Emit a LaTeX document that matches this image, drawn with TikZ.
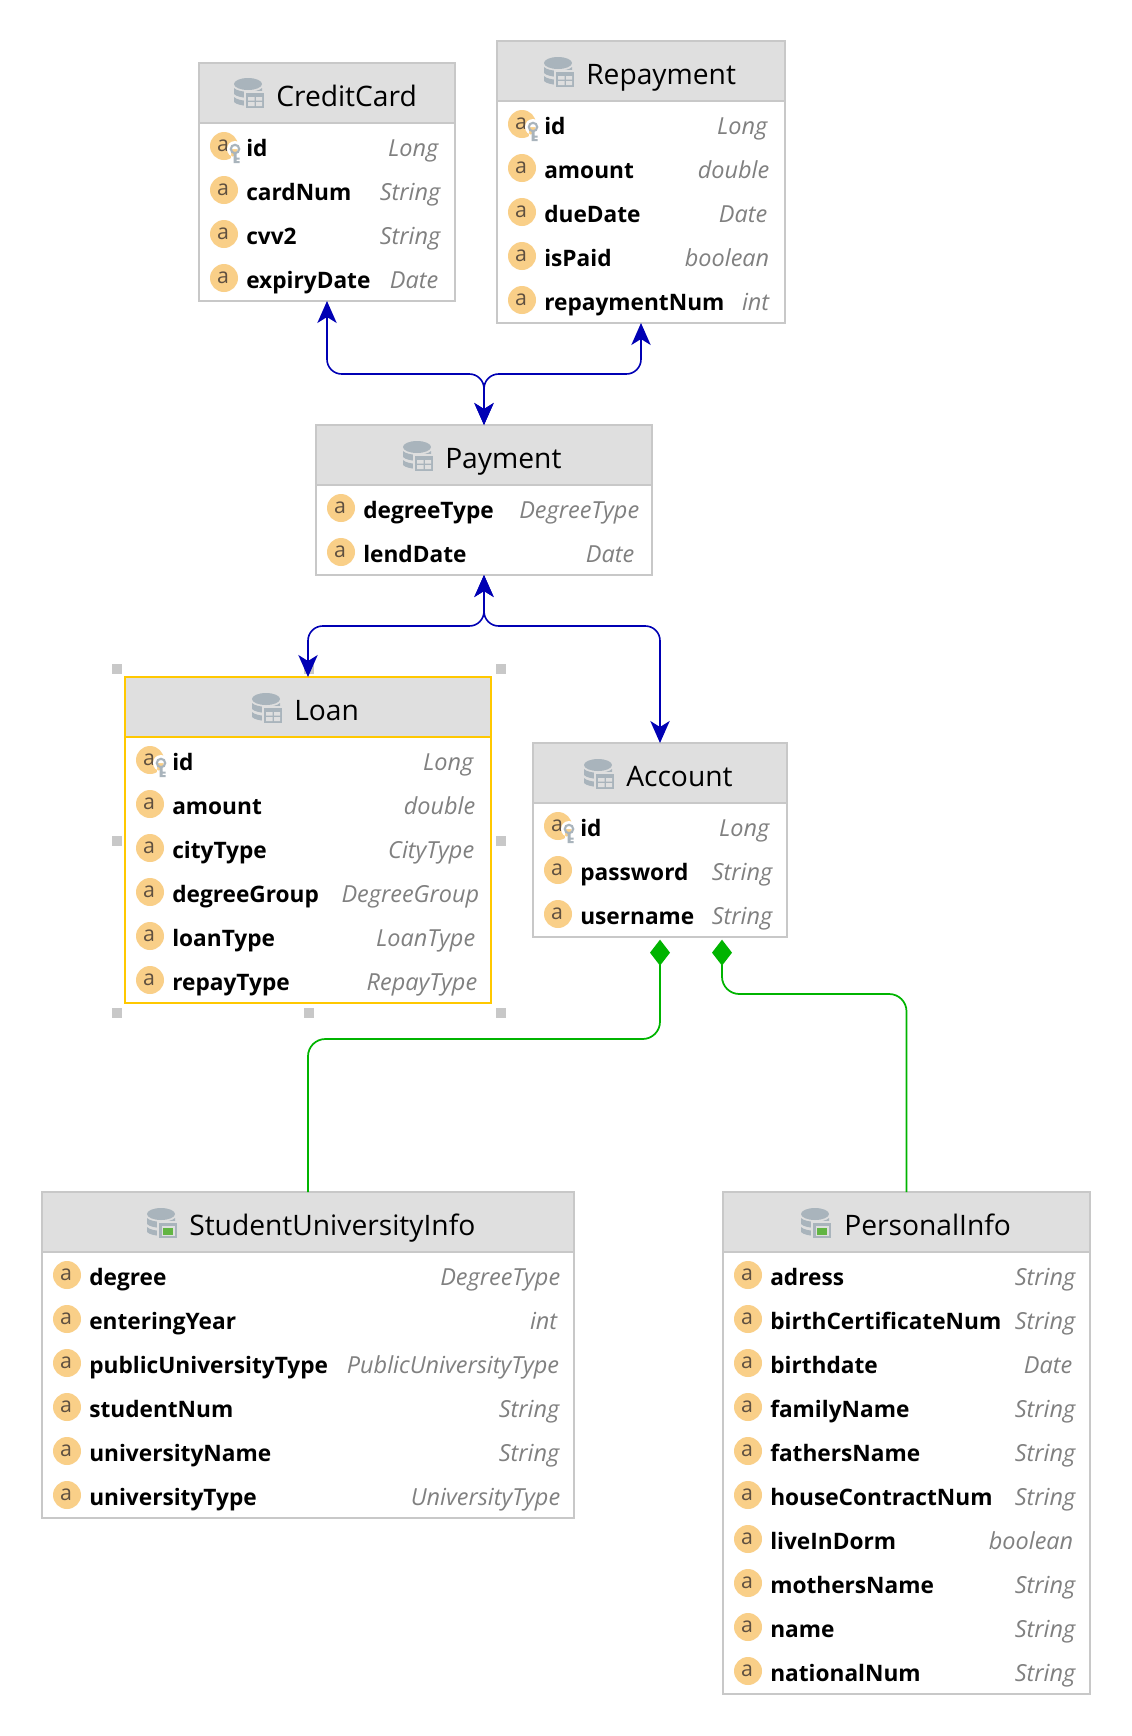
\documentclass[tikz,border=0pt]{standalone}
\usepackage{fontspec}
\setmainfont{Open Sans}
\usetikzlibrary{arrows.meta,shapes.geometric}
\definecolor{boxgray}{HTML}{C8C8C8}
\definecolor{headgray}{HTML}{DFDFDF}
\definecolor{icongray}{HTML}{A9B4BC}
\definecolor{attrorange}{HTML}{F9CF88}
\definecolor{attrbrown}{HTML}{5F5040}
\definecolor{typegray}{HTML}{808080}
\definecolor{pickyellow}{HTML}{FFC800}
\definecolor{fkblue}{HTML}{0000B4}
\definecolor{partgreen}{HTML}{00B400}
\definecolor{viewgreen}{HTML}{62B543}
\tikzset{
  tablebody/.style={draw=#1,fill=white,line width=.85pt,inner sep=0pt,outer sep=0pt,anchor=north west},
  tablehead/.style={fill=headgray,inner sep=0pt,outer sep=0pt,anchor=north west},
  tabletitle/.style={inner sep=0pt,anchor=base west,font=\fontsize{21.15}{21.15}\selectfont},
  attricon/.style={circle,fill=attrorange,text=attrbrown,minimum size=21pt,inner sep=0pt,font=\fontsize{16}{16}\selectfont},
  attrname/.style={inner sep=0pt,anchor=base west,font=\fontsize{17}{17}\selectfont\bfseries},
  attrtype/.style={inner sep=0pt,anchor=base east,text=typegray,font=\fontsize{17.6}{17.6}\selectfont\itshape},
  handle/.style={fill=boxgray,minimum size=7.5pt,inner sep=0pt},
  fkline/.style={draw=fkblue,line width=1.2pt,rounded corners=11pt,
    {Stealth[length=16.5pt,width=14.5pt,inset=4.5pt]}-{Stealth[length=16.5pt,width=14.5pt,inset=4.5pt]}},
  partline/.style={draw=partgreen,line width=1.3pt,rounded corners=13pt,shorten <=2pt,
    {Diamond[length=19.5pt,width=15pt]}-},
}
\newcommand{\dbtable}[7][boxgray]{%
  \node[tablebody=#1,minimum width={(#5-#3)*.75pt},minimum height={(#6-#4)*.75pt}] (#2) at (#3,#4) {};%
  \node[tablehead,minimum width={(#5-#3-2)*.75pt},minimum height={59*.75pt}] (#2h) at (#3+1,#4+1) {};%
  \draw[draw=#1,line width=1.5pt] (#3,#4+60) -- (#5,#4+60);%
  \node[tabletitle] (#2t) at (#7,#4+43) {\csname title#2\endcsname};%
}
\newcommand{\dbstack}[2]{%
  \begin{scope}[shift={(#1,#2)}]%
    \fill[icongray] (14,6) ellipse (14 and 6);%
    \fill[icongray] (0,10) .. controls (5,15) and (23,15) .. (28,10) -- (28,16) .. controls (23,21) and (5,21) .. (0,16) -- cycle;%
    \fill[icongray] (0,19) .. controls (5,24) and (23,24) .. (28,19) -- (28,24) .. controls (23,29) and (5,29) .. (0,24) -- cycle;%
    \fill[headgray] (10,12.5) rectangle (31,31);%
    \fill[icongray] (12,15) rectangle (30,30);%
  \end{scope}%
}
\newcommand{\dbicon}[2]{%
  \dbstack{#1}{#2}%
  \begin{scope}[shift={(#1,#2)}]%
    \fill[headgray] (14,19) rectangle (20.5,22.5) (22,19) rectangle (28,22.5) (14,24) rectangle (20.5,28) (22,24) rectangle (28,28);%
  \end{scope}%
}
\newcommand{\dbview}[2]{%
  \dbstack{#1}{#2}%
  \begin{scope}[shift={(#1,#2)}]%
    \fill[headgray] (14.5,17.5) rectangle (27.5,27.5);%
    \fill[viewgreen] (16,19.5) rectangle (26,26.5);%
  \end{scope}%
}
\newcommand{\attr}[6]{%
  \node[attricon] (#1a) at (#2,#3) {\kern-1.5pt a};%
  \node[attrname] (#1n) at (#2+22,#3+10) {#4};%
  \node[attrtype] (#1t) at (#5+1.5,#3+10) {#6};%
}
\newcommand{\keymark}[2]{%
  \begin{scope}[shift={(#1,#2)}]%
    \fill[white] (11,3) circle (8) (7,3) rectangle (15,18);%
    \draw[icongray,line width=1.6pt] (11,3) circle (4.2);%
    \fill[icongray] (9.5,7) rectangle (12.5,17) (12.5,11.5) rectangle (15.5,13.5) (12.5,15) rectangle (15.5,17);%
  \end{scope}%
}
\newcommand{\titlecredit}{CreditCard}
\newcommand{\titlerepay}{Repayment}
\newcommand{\titlepayment}{Payment}
\newcommand{\titleloan}{Loan}
\newcommand{\titleaccount}{Account}
\newcommand{\titlestudent}{StudentUniversityInfo}
\newcommand{\titlepersonal}{PersonalInfo}
\begin{document}
\begin{tikzpicture}[x=.75pt,y=-.75pt]
\useasboundingbox (0,0) rectangle (1132,1736);
\fill[white] (0,0) rectangle (1132,1736);
%% CreditCard
\dbtable{credit}{199}{63}{455}{301}{276}
\dbicon{234}{78}
\attr{cc1}{224}{146}{id}{437}{Long} \keymark{224}{146}
\attr{cc2}{224}{190}{cardNum}{439}{String}
\attr{cc3}{224}{234}{cvv2}{439}{String}
\attr{cc4}{224}{278}{expiryDate}{437}{Date}
%% Repayment
\dbtable{repay}{497}{41}{785}{323}{586}
\dbicon{544}{57}
\attr{rp1}{522}{124}{id}{766}{Long} \keymark{522}{124}
\attr{rp2}{522}{168}{amount}{768}{double}
\attr{rp3}{522}{212}{dueDate}{766}{Date}
\attr{rp4}{522}{256}{isPaid}{768}{boolean}
\attr{rp5}{522}{300}{repaymentNum}{768}{int}
%% Payment
\dbtable{payment}{316}{425}{652}{575}{445}
\dbicon{403}{441}
\attr{pm1}{341}{508}{degreeType}{638}{DegreeType}
\attr{pm2}{341}{552}{lendDate}{633}{Date}
%% Loan, with its handles
\node[handle] (h1) at (117,669) {};
\node[handle] (h2) at (309,669) {};
\node[handle] (h3) at (501,669) {};
\node[handle] (h4) at (117,841) {};
\node[handle] (h5) at (501,841) {};
\node[handle] (h6) at (117,1013) {};
\node[handle] (h7) at (309,1013) {};
\node[handle] (h8) at (501,1013) {};
\dbtable[pickyellow]{loan}{125}{677}{491}{1003}{294}
\dbicon{252}{693}
\attr{ln1}{150}{760}{id}{472}{Long} \keymark{150}{760}
\attr{ln2}{150}{804}{amount}{474}{double}
\attr{ln3}{150}{848}{cityType}{473}{CityType}
\attr{ln4}{150}{892}{degreeGroup}{478}{DegreeGroup}
\attr{ln5}{150}{936}{loanType}{474}{LoanType}
\attr{ln6}{150}{980}{repayType}{476}{RepayType}
%% Account
\dbtable{account}{533}{743}{787}{937}{626}
\dbicon{584}{759}
\attr{ac1}{558}{826}{id}{768}{Long} \keymark{558}{826}
\attr{ac2}{558}{870}{password}{771}{String}
\attr{ac3}{558}{914}{username}{771}{String}
%% StudentUniversityInfo
\dbtable{student}{42}{1192}{574}{1518}{189}
\dbview{147}{1208}
\attr{st1}{67}{1275}{degree}{559}{DegreeType}
\attr{st2}{67}{1319}{enteringYear}{556}{int}
\attr{st3}{67}{1363}{publicUniversityType}{558}{PublicUniversityType}
\attr{st4}{67}{1407}{studentNum}{558}{String}
\attr{st5}{67}{1451}{universityName}{558}{String}
\attr{st6}{67}{1495}{universityType}{559}{UniversityType}
%% PersonalInfo
\dbtable{personal}{723}{1192}{1090}{1694}{844}
\dbview{801}{1208}
\attr{pi1}{748}{1275}{adress}{1074}{String}
\attr{pi2}{748}{1319}{birthCertificateNum}{1074}{String}
\attr{pi3}{748}{1363}{birthdate}{1071}{Date}
\attr{pi4}{748}{1407}{familyName}{1074}{String}
\attr{pi5}{748}{1451}{fathersName}{1074}{String}
\attr{pi6}{748}{1495}{houseContractNum}{1074}{String}
\attr{pi7}{748}{1539}{liveInDorm}{1072}{boolean}
\attr{pi8}{748}{1583}{mothersName}{1074}{String}
\attr{pi9}{748}{1627}{name}{1074}{String}
\attr{pi10}{748}{1671}{nationalNum}{1074}{String}
%% connectors
\coordinate (busUp) at (484,374);
\coordinate (busDown) at (484,626);
\coordinate (partA) at (500,1039);
\coordinate (partB) at (800,994);
\coordinate (acctFoot) at (722,937);
\draw[fkline] (credit.south) |- (busUp) -- (payment.north);
\draw[fkline] (repay.south) |- (busUp) -- (payment.north);
\draw[fkline] (payment.south) -- (busDown) -| (loan.north);
\draw[fkline] (payment.south) -- (busDown) -| (account.north);
\draw[partline] (account.south) |- (partA) -| (student.north);
\draw[partline] (acctFoot) |- (partB) -| (personal.north);
\end{tikzpicture}
\end{document}
